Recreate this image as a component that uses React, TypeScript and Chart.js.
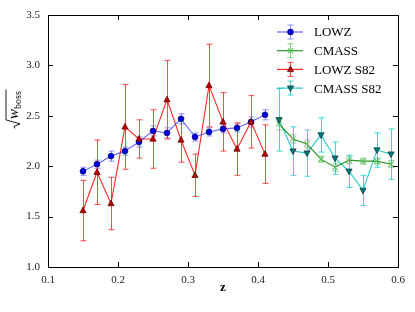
import React, { useEffect, useRef } from 'react';
import { Chart, registerables } from 'chart.js';
Chart.register(...registerables);

const zLowz = [0.15, 0.17, 0.19, 0.21, 0.23, 0.25, 0.27, 0.29, 0.31, 0.33, 0.35, 0.37, 0.39, 0.41];
const lowz = [1.95, 2.02, 2.10, 2.15, 2.24, 2.35, 2.33, 2.47, 2.29, 2.34, 2.37, 2.38, 2.44, 2.51];
const lowzErr = [0.04, 0.04, 0.05, 0.04, 0.05, 0.05, 0.05, 0.05, 0.04, 0.04, 0.04, 0.04, 0.05, 0.05];
const lowzS82 = [1.56, 1.94, 1.63, 2.39, 2.27, 2.27, 2.66, 2.26, 1.91, 2.80, 2.44, 2.17, 2.44, 2.12];
const lowzS82Err = [0.30, 0.32, 0.26, 0.42, 0.19, 0.29, 0.39, 0.22, 0.21, 0.41, 0.29, 0.26, 0.26, 0.29];

const zCmass = [0.43, 0.45, 0.47, 0.49, 0.51, 0.53, 0.55, 0.57, 0.59];
const cmass = [2.42, 2.27, 2.22, 2.07, 1.99, 2.06, 2.05, 2.05, 2.02];
const cmassErr = [0.06, 0.04, 0.04, 0.03, 0.04, 0.035, 0.03, 0.03, 0.035];
const cmassS82 = [2.46, 2.15, 2.13, 2.31, 2.08, 1.95, 1.76, 2.16, 2.12];
const cmassS82Err = [0.31, 0.24, 0.23, 0.17, 0.16, 0.16, 0.15, 0.17, 0.25];

const seriesNames = ['LOWZ', 'CMASS', 'LOWZ S82', 'CMASS S82'];
const xTicks = [0.1, 0.2, 0.3, 0.4, 0.5, 0.6];
const yTicks = [1.0, 1.5, 2.0, 2.5, 3.0, 3.5];
const xTitle = 'z';

const SERIF = '"Liberation Serif", "DejaVu Serif", serif';

type Style = {
  line: string;
  err: string;
  fill: string;
  edge: string;
  marker: 'circle' | 'x' | 'tri' | 'tridown';
};

const styles: Style[] = [
  { line: 'rgba(0,0,255,0.6)', err: 'rgba(70,70,255,0.6)', fill: '#0000e0', edge: '#000060', marker: 'circle' },
  { line: 'rgba(0,128,0,0.85)', err: 'rgba(60,170,60,0.6)', fill: '#60c060', edge: '#60c060', marker: 'x' },
  { line: 'rgba(255,0,0,0.85)', err: 'rgba(255,30,30,0.8)', fill: '#c00000', edge: '#500000', marker: 'tri' },
  { line: 'rgba(0,191,191,0.85)', err: 'rgba(0,200,200,0.75)', fill: '#007878', edge: '#003030', marker: 'tridown' },
];

function drawMarker(ctx: CanvasRenderingContext2D, kind: Style['marker'], x: number, y: number, st: Style) {
  ctx.save();
  ctx.lineWidth = 0.7;
  ctx.fillStyle = st.fill;
  ctx.strokeStyle = st.edge;
  ctx.beginPath();
  if (kind === 'circle') {
    ctx.arc(x, y, 2.9, 0, Math.PI * 2);
    ctx.fill();
    ctx.stroke();
  } else if (kind === 'tri') {
    ctx.moveTo(x, y - 3.5);
    ctx.lineTo(x + 3.1, y + 2.2);
    ctx.lineTo(x - 3.1, y + 2.2);
    ctx.closePath();
    ctx.fill();
    ctx.stroke();
  } else if (kind === 'tridown') {
    ctx.moveTo(x, y + 3.5);
    ctx.lineTo(x + 3.1, y - 2.2);
    ctx.lineTo(x - 3.1, y - 2.2);
    ctx.closePath();
    ctx.fill();
    ctx.stroke();
  } else {
    ctx.lineWidth = 1.1;
    ctx.moveTo(x - 2.6, y - 2.6);
    ctx.lineTo(x + 2.6, y + 2.6);
    ctx.moveTo(x - 2.6, y + 2.6);
    ctx.lineTo(x + 2.6, y - 2.6);
    ctx.stroke();
  }
  ctx.restore();
}

export default function App() {
  const ref = useRef<HTMLCanvasElement>(null);

  useEffect(() => {
    document.body.style.margin = '0';
    const xs = [zLowz, zCmass, zLowz, zCmass];
    const ys = [lowz, cmass, lowzS82, cmassS82];
    const errs = [lowzErr, cmassErr, lowzS82Err, cmassS82Err];

    const errorPlugin = {
      id: 'errorbars',
      beforeDatasetsDraw(chart: any) {
        const ctx: CanvasRenderingContext2D = chart.ctx;
        const xS = chart.scales.x;
        const yS = chart.scales.y;
        ctx.save();
        errs.forEach((e, i) => {
          ctx.strokeStyle = styles[i].err;
          ctx.lineWidth = 1;
          xs[i].forEach((z, j) => {
            const px = Math.round(xS.getPixelForValue(z)) + 0.5;
            const top = yS.getPixelForValue(ys[i][j] + e[j]);
            const bot = yS.getPixelForValue(ys[i][j] - e[j]);
            ctx.beginPath();
            ctx.moveTo(px, top);
            ctx.lineTo(px, bot);
            ctx.moveTo(px - 3, top);
            ctx.lineTo(px + 3, top);
            ctx.moveTo(px - 3, bot);
            ctx.lineTo(px + 3, bot);
            ctx.stroke();
          });
        });
        ctx.restore();
      },
      afterDatasetsDraw(chart: any) {
        const ctx: CanvasRenderingContext2D = chart.ctx;
        const xS = chart.scales.x;
        const yS = chart.scales.y;
        [0, 1, 2, 3].forEach((i) => {
          xs[i].forEach((z, j) => {
            drawMarker(ctx, styles[i].marker, xS.getPixelForValue(z), yS.getPixelForValue(ys[i][j]), styles[i]);
          });
        });
      },
      afterDraw(chart: any) {
        const ctx: CanvasRenderingContext2D = chart.ctx;
        const a = chart.chartArea;
        const xS = chart.scales.x;
        const yS = chart.scales.y;
        ctx.save();
        ctx.strokeStyle = '#000';
        ctx.lineWidth = 1;
        ctx.strokeRect(Math.round(a.left) + 0.5, Math.round(a.top) + 0.5, Math.round(a.right - a.left), Math.round(a.bottom - a.top));
        ctx.beginPath();
        xTicks.forEach((t) => {
          const px = Math.round(xS.getPixelForValue(t)) + 0.5;
          ctx.moveTo(px, a.bottom);
          ctx.lineTo(px, a.bottom - 5);
          ctx.moveTo(px, a.top);
          ctx.lineTo(px, a.top + 5);
        });
        yTicks.forEach((t) => {
          const py = Math.round(yS.getPixelForValue(t)) + 0.5;
          ctx.moveTo(a.left, py);
          ctx.lineTo(a.left + 5, py);
          ctx.moveTo(a.right, py);
          ctx.lineTo(a.right - 5, py);
        });
        ctx.stroke();

        seriesNames.forEach((name, i) => {
          const st = styles[i];
          const cy = 32 + i * 18.7;
          ctx.strokeStyle = st.line;
          ctx.lineWidth = 1.2;
          ctx.beginPath();
          ctx.moveTo(277, cy);
          ctx.lineTo(303, cy);
          ctx.stroke();
          ctx.strokeStyle = st.err;
          ctx.lineWidth = 1;
          ctx.beginPath();
          ctx.moveTo(290.5, cy - 7);
          ctx.lineTo(290.5, cy + 7);
          ctx.moveTo(287.5, cy - 7);
          ctx.lineTo(293.5, cy - 7);
          ctx.moveTo(287.5, cy + 7);
          ctx.lineTo(293.5, cy + 7);
          ctx.stroke();
          drawMarker(ctx, st.marker, 290.5, cy, st);
          ctx.fillStyle = '#000';
          ctx.font = '13px ' + SERIF;
          ctx.textBaseline = 'middle';
          ctx.textAlign = 'left';
          ctx.fillText(name, 314, cy + 1);
        });

        // y-axis title: sqrt(w_boss)
        ctx.translate(14, 109);
        ctx.rotate(-Math.PI / 2);
        ctx.fillStyle = '#000';
        ctx.strokeStyle = '#000';
        ctx.lineWidth = 0.9;
        ctx.font = 'italic 15px ' + SERIF;
        const wW = ctx.measureText('w').width;
        ctx.font = '10px ' + SERIF;
        const bW = ctx.measureText('boss').width;
        const total = 10 + wW + bW + 1;
        const L = -total / 2;
        ctx.beginPath();
        ctx.moveTo(L, 1);
        ctx.lineTo(L + 2, 0);
        ctx.lineTo(L + 4.5, 6);
        ctx.lineTo(L + 8.5, -8);
        ctx.lineTo(L + total, -8);
        ctx.stroke();
        ctx.textBaseline = 'alphabetic';
        ctx.textAlign = 'left';
        ctx.font = 'italic 15px ' + SERIF;
        ctx.fillText('w', L + 9.5, 4);
        ctx.font = '10px ' + SERIF;
        ctx.fillText('boss', L + 9.5 + wW, 7);
        ctx.restore();
      },
    };

    const datasets = [0, 1, 2, 3].map((i) => ({
      label: seriesNames[i],
      data: xs[i].map((z, j) => ({ x: z, y: ys[i][j] })),
      showLine: true,
      borderColor: styles[i].line,
      borderWidth: 1.1,
      pointRadius: 0,
      pointHoverRadius: 0,
      fill: false,
      tension: 0,
    }));

    const chart = new Chart(ref.current!, {
      type: 'scatter',
      data: { datasets },
      options: {
        responsive: false,
        animation: false,
        events: [],
        layout: { padding: { left: 0, right: 17, top: 15, bottom: 0 } },
        plugins: { legend: { display: false }, tooltip: { enabled: false } },
        scales: {
          x: {
            type: 'linear',
            min: 0.1,
            max: 0.6,
            afterFit: (s: any) => { s.height = 45; },
            afterBuildTicks: (s: any) => { s.ticks = xTicks.map((v) => ({ value: v })); },
            grid: { display: false, drawTicks: false },
            border: { display: false },
            ticks: {
              padding: 7,
              color: '#222',
              font: { family: SERIF, size: 11 },
              callback: (v: any) => Number(v).toFixed(1),
            },
            title: {
              display: true,
              text: xTitle,
              color: '#000',
              font: { family: SERIF, size: 13, weight: 'bold' },
              padding: { top: 0, bottom: 17 },
            },
          },
          y: {
            type: 'linear',
            min: 1.0,
            max: 3.5,
            afterFit: (s: any) => { s.width = 48; },
            afterBuildTicks: (s: any) => { s.ticks = yTicks.map((v) => ({ value: v })); },
            grid: { display: false, drawTicks: false },
            border: { display: false },
            ticks: {
              padding: 8,
              color: '#222',
              font: { family: SERIF, size: 11 },
              callback: (v: any) => Number(v).toFixed(1),
            },
          },
        },
      },
      plugins: [errorPlugin],
    } as any);

    return () => chart.destroy();
  }, []);

  return <canvas ref={ref} width={415} height={312} style={{ display: 'block' }} />;
}
